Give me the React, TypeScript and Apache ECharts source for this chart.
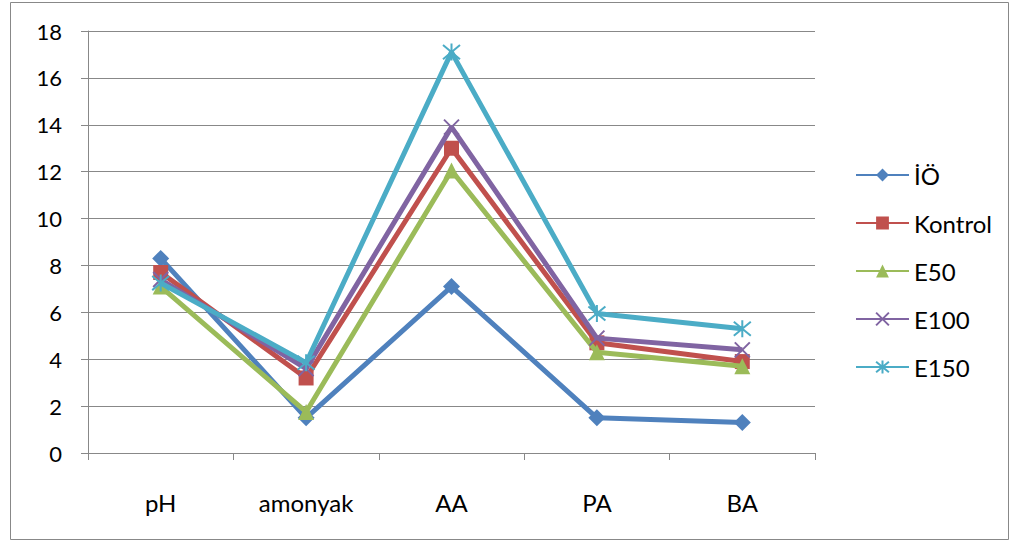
import React, { useEffect, useRef } from "react";
import * as echarts from "echarts";

const categories = ["pH", "amonyak", "AA", "PA", "BA"];
const seriesNames = ["İÖ", "Kontrol", "E50", "E100", "E150"];
const valuesIO = [8.3, 1.5, 7.1, 1.5, 1.3];
const valuesKontrol = [7.7, 3.2, 13.0, 4.7, 3.9];
const valuesE50 = [7.1, 1.75, 12.05, 4.3, 3.7];
const valuesE100 = [7.4, 3.6, 13.9, 4.9, 4.4];
const valuesE150 = [7.25, 3.85, 17.1, 5.95, 5.3];
const yTicks = [0, 2, 4, 6, 8, 10, 12, 14, 16, 18];

const colors = ["#4F81BD", "#C0504D", "#9BBB59", "#8064A2", "#4BACC6"];
const allValues = [valuesIO, valuesKontrol, valuesE50, valuesE100, valuesE150];

const xPath = "path://M0,0 L10,10 M10,0 L0,10";
const starPath = "path://M0,0 L10,10 M10,0 L0,10 M5,-1 L5,11";

export default function App() {
  const ref = useRef<HTMLDivElement>(null);
  useEffect(() => {
    if (!ref.current) return;
    const chart = echarts.init(ref.current, null, { renderer: "svg" });
    const font = "Lato, 'Liberation Sans', sans-serif";
    const symbols = ["diamond", "rect", "triangle", xPath, starPath];
    const sizes = [17, 15, 16, 15, 17];
    const series = seriesNames.map((name, i) => {
      const stroked = i >= 3;
      return {
        name,
        type: "line",
        data: allValues[i],
        symbol: symbols[i],
        symbolSize: sizes[i],
        showAllSymbol: true,
        color: colors[i],
        lineStyle: { color: colors[i], width: 5 },
        itemStyle: stroked
          ? { color: "rgba(0,0,0,0)", borderColor: colors[i], borderWidth: 2 }
          : { color: colors[i], borderWidth: 0 },
        z: 2 + i,
      };
    });
    chart.setOption({
      animation: false,
      backgroundColor: "#fff",
      textStyle: { fontFamily: font },
      graphic: [
        {
          type: "rect",
          shape: { x: 10.5, y: 2.5, width: 998, height: 537 },
          style: { fill: "none", stroke: "#888", lineWidth: 1 },
          silent: true,
        },
      ],
      grid: { left: 88, right: 199, top: 31, bottom: 89, containLabel: false },
      legend: {
        orient: "vertical",
        left: 855,
        top: 163,
        padding: 0,
        itemWidth: 53,
        itemHeight: 16,
        itemGap: 24,
        textStyle: { fontSize: 24, color: "#000", fontFamily: font },
        data: seriesNames,
      },
      xAxis: {
        type: "category",
        data: categories,
        boundaryGap: true,
        axisLine: { lineStyle: { color: "#888", width: 1 } },
        axisTick: { show: true, length: 7, inside: false, lineStyle: { color: "#888" } },
        axisLabel: { color: "#000", fontSize: 24, margin: 37, fontFamily: font },
      },
      yAxis: {
        type: "value",
        min: 0,
        max: 18,
        interval: 2,
        axisLine: { show: true, lineStyle: { color: "#888", width: 1 } },
        axisTick: { show: true, length: 7, lineStyle: { color: "#888" } },
        splitLine: { show: true, lineStyle: { color: "#888", width: 1 } },
        axisLabel: {
          color: "#000",
          fontSize: 22,
          margin: 26,
          fontFamily: font,
          formatter: (v: number) => (yTicks.includes(v) ? String(v) : ""),
        },
      },
      series,
    });
    return () => chart.dispose();
  }, []);
  return (
    <div
      ref={ref}
      style={{ position: "fixed", left: 0, top: 0, width: 1014, height: 542 }}
    />
  );
}
